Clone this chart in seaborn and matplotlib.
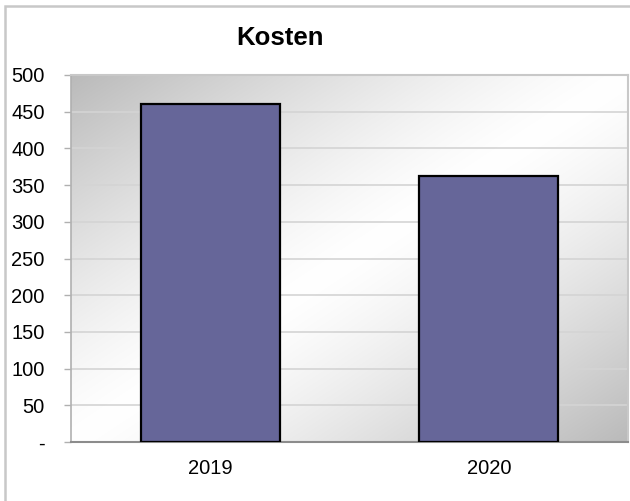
import numpy as np
import matplotlib
matplotlib.use("Agg")
import matplotlib.pyplot as plt
import seaborn as sns
from matplotlib.patches import Rectangle
from matplotlib.ticker import FuncFormatter

# data
jahre = ["2019", "2020"]
kosten = [461, 363]
y_ticks = [0, 50, 100, 150, 200, 250, 300, 350, 400, 450, 500]

sns.set_style("white")
plt.rcParams["font.family"] = ["Liberation Sans", "DejaVu Sans"]
plt.rcParams["text.color"] = "black"
plt.rcParams["xtick.labelcolor"] = "black"
plt.rcParams["ytick.labelcolor"] = "black"

fig = plt.figure(figsize=(6.3, 5.01), dpi=100)
ax = fig.add_axes([71 / 630, 1 - 442 / 501, 557 / 630, 367 / 501])

# grey diagonal gradient behind the bars (dark corners, white middle)
nx, ny = 200, 200
u = np.linspace(0, 1, nx)[None, :]
v = np.linspace(0, 1, ny)[:, None]  # 0 = top row
t = (u + v) / 2
shade = 1 - 0.27 * (np.abs(t - 0.5) / 0.5) ** 1.3
img = np.dstack([shade, shade, shade])
ax.imshow(img, extent=[-0.5, 1.5, 0, 500], aspect="auto", zorder=0,
          interpolation="bilinear")

sns.barplot(x=jahre, y=kosten, color="#666699", width=0.5, edgecolor="black",
            linewidth=1.6, saturation=1, ax=ax, zorder=3)

ax.set_xlim(-0.5, 1.5)
ax.set_ylim(0, 500)
ax.set_yticks(y_ticks)
ax.yaxis.set_major_formatter(FuncFormatter(lambda val, pos: "-" if val == 0 else f"{val:.0f}"))
ax.set_xlabel("")
ax.set_ylabel("")

for yv in y_ticks[1:]:
    ax.axhline(yv, color="#d4d4d4", lw=1.2, zorder=1)

for side in ["top", "right"]:
    ax.spines[side].set_color("#c8c8c8")
    ax.spines[side].set_linewidth(1.5)
ax.spines["left"].set_color("#b0b0b0")
ax.spines["bottom"].set_color("#8c8c8c")
ax.spines["left"].set_linewidth(1.2)
ax.spines["bottom"].set_linewidth(1.5)

ax.set_xticks([-0.5, 0.5, 1.5], minor=True)
ax.tick_params(axis="x", which="major", length=0, pad=12, labelsize=14.5,
               labelcolor="black")
ax.tick_params(axis="x", which="minor", length=5, color="#b0b0b0", width=1)
ax.tick_params(axis="y", length=5, color="#b0b0b0", width=1, pad=14, labelsize=14.5,
               left=True, labelcolor="black")

fig.text(280 / 630, 1 - 38 / 501, "Kosten", ha="center", va="center",
         fontsize=18.5, fontweight="bold", color="black")

# outer chart frame
fig.patches.append(Rectangle((5 / 630, -0.1), 1.2, 1 - 6 / 501 + 0.1,
                             transform=fig.transFigure, fill=False,
                             edgecolor="#c8c8c8", lw=1.8))

fig.savefig("out.png", dpi=100)
